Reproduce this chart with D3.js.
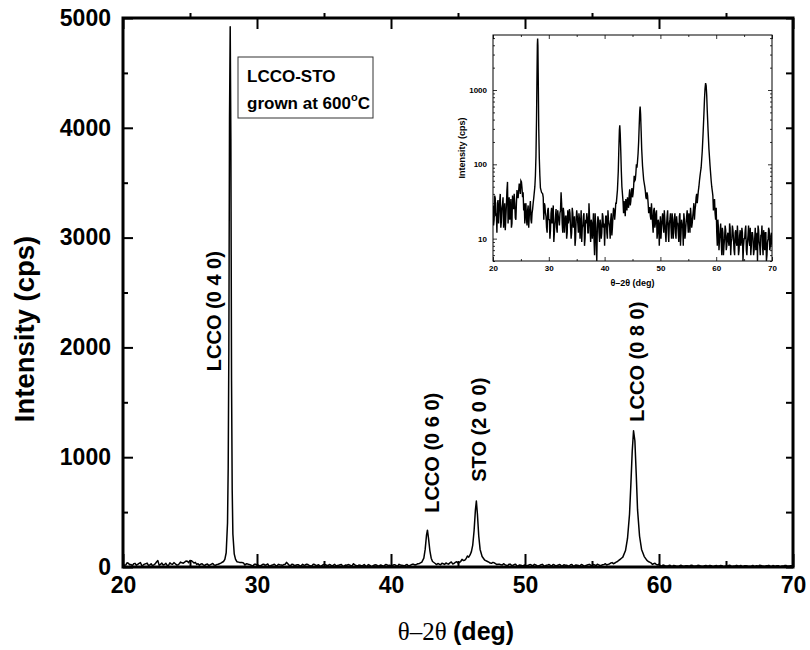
<!DOCTYPE html>
<html>
<head>
<meta charset="utf-8">
<script src="https://cdn.jsdelivr.net/npm/d3@7"></script>
<style>
  body { margin: 0; background: #fff; }
  svg { display: block; }
</style>
</head>
<body>
<div id="chart"></div>
<script type="text/javascript">

      // scan settings and background counts (2theta 20..70, step 0.2)
      var scanStart = 20, scanStep = 0.2;
      var bgCounts = [
        28, 18, 35, 22, 30, 16,
        32, 14, 26, 36, 20,
        13, 28, 58, 24, 18,
        34, 16, 27, 40, 19,
        30, 38, 44, 52, 60,
        48, 42, 30, 26, 18,
        24, 14, 26, 18, 22,
        30, 60, 200, 900, 4900,
        600, 120, 40, 44, 36,
        30, 22, 14, 24, 18,
        10, 22, 16, 28, 12,
        20, 14, 24, 18, 22,
        42, 16, 26, 12, 20,
        10, 24, 18, 22, 10,
        26, 14, 20, 10, 24,
        16, 22, 10, 24, 14,
        20, 8, 18, 22, 12,
        30, 14, 18, 10, 22,
        6, 16, 5, 20, 12,
        18, 10, 22, 14, 8,
        20, 12, 24, 16, 10,
        22, 14, 26, 18, 30,
        45, 120, 330, 90, 40,
        30, 22, 26, 34, 24,
        30, 38, 28, 42, 36,
        50, 60, 75, 90, 140,
        420, 400, 120, 70, 55,
        48, 36, 42, 30, 26,
        20, 30, 16, 24, 14,
        22, 10, 18, 8, 20,
        14, 22, 12, 18, 9,
        20, 12, 16, 22, 10,
        18, 14, 22, 10, 16,
        12, 20, 8, 18, 14,
        22, 10, 16, 24, 12,
        18, 26, 14, 20, 30,
        24, 36, 30, 44, 60,
        80, 120, 240, 550, 1150,
        1200, 700, 300, 140, 70,
        50, 38, 30, 22, 26,
        8, 14, 10, 16, 6,
        12, 8, 15, 7, 11,
        9, 16, 6, 10, 13,
        7, 12, 9, 15, 6,
        11, 8, 14, 5, 10,
        13, 7, 9, 15, 8,
        6, 12, 10, 7, 14,
        9, 5, 13, 8, 11,
        15, 6, 10, 12, 5,
        9, 14, 7, 11, 8
      ];
      // counts at the in-between steps (20.1 .. 69.9)
      var bgCountsMid = [
        15, 38, 20, 12, 33,
        24, 40, 17, 29, 14,
        30, 19, 45, 16, 36,
        22, 14, 38, 25, 30,
        18, 45, 35, 55, 40,
        58, 36, 24, 16, 30,
        15, 28, 20, 32, 16,
        25, 40, 110, 500, 3000,
        2000, 200, 60, 30, 42,
        18, 28, 20, 12, 26,
        18, 13, 26, 20, 9,
        16, 25, 12, 20, 15,
        24, 30, 12, 22, 16,
        20, 12, 16, 25, 14,
        12, 22, 16, 8, 18,
        20, 12, 18, 16, 9,
        15, 22, 10, 16, 19,
        12, 20, 9, 16, 14,
        10, 22, 8, 14, 18,
        9, 15, 12, 20, 16,
        14, 20, 10, 18, 14,
        18, 11, 20, 24, 22,
        35, 70, 320, 200, 55,
        40, 25, 32, 20, 30,
        36, 26, 46, 32, 48,
        40, 70, 62, 100, 85,
        260, 560, 200, 85, 60,
        52, 44, 34, 38, 22,
        26, 18, 22, 12, 26,
        16, 24, 12, 16, 14,
        10, 18, 16, 24, 12,
        15, 24, 9, 18, 14,
        22, 10, 18, 12, 20,
        16, 9, 22, 12, 16,
        8, 18, 12, 20, 16,
        22, 12, 20, 16, 24,
        18, 28, 40, 36, 50,
        70, 100, 180, 380, 900,
        1250, 950, 450, 200, 100,
        60, 44, 24, 34, 18,
        12, 18, 7, 12, 9,
        14, 6, 10, 13, 8,
        12, 8, 14, 9, 15,
        10, 6, 13, 8, 11,
        7, 13, 9, 12, 8,
        10, 15, 6, 11, 9,
        14, 8, 12, 6, 10,
        7, 12, 15, 9, 6,
        11, 8, 13, 7, 12,
        6, 10, 13, 8, 12
      ];

      // finer points read around each reflection
      var peak040 = [[27.3,35],[27.5,50],[27.6,70],[27.7,130],[27.8,400],[27.85,900],[27.9,2000],[27.95,4100],
                     [28.0,4920],[28.05,3900],[28.1,1700],[28.15,700],[28.2,300],[28.3,120],[28.4,70],[28.5,48],[28.7,42],[28.9,40]];
      var peak060 = [[42.1,30],[42.3,45],[42.45,80],[42.55,160],[42.65,290],[42.72,335],[42.8,260],[42.9,150],[43.0,80],[43.1,50],[43.3,32]];
      var peak200 = [[45.9,110],[46.0,140],[46.1,200],[46.2,330],[46.3,520],[46.37,600],[46.45,480],[46.55,280],[46.65,160],[46.8,95],[47.0,62],[47.2,50]];
      var peak080 = [[57.3,90],[57.5,150],[57.65,260],[57.8,480],[57.9,750],[58.0,1050],[58.1,1240],[58.2,1150],[58.3,850],[58.4,520],
                     [58.55,280],[58.7,160],[58.9,95],[59.1,60]];

      // label baseline position (deg) and centre (cps)
      var peakLabels = [
        {text: "LCCO (0 4 0)", x: 27.3, at: 2330},
        {text: "LCCO (0 6 0)", x: 43.55, at: 1040},
        {text: "STO (2 0 0)", x: 47.1, at: 1250},
        {text: "LCCO (0 8 0)", x: 58.9, at: 1870}
      ];

      var xTicks = [20, 30, 40, 50, 60, 70];
      var xMinor = [25, 35, 45, 55, 65];
      var yTicks = [0, 1000, 2000, 3000, 4000, 5000];
      var yMinor = [500, 1500, 2500, 3500, 4500];
      var insetYTicks = [10, 100, 1000];

      // merge background and peak points
      var peaks = [peak040, peak060, peak200, peak080];
      var data = [];
      function inPeak(tt) {
        return peaks.some(function(p) { return tt >= p[0][0] && tt <= p[p.length-1][0]; });
      }
      bgCounts.forEach(function(c, i) {
        var tt = +(scanStart + i * scanStep).toFixed(2);
        if (!inPeak(tt)) data.push([tt, c]);
      });
      bgCountsMid.forEach(function(c, i) {
        var tt = +(scanStart + scanStep / 2 + i * scanStep).toFixed(2);
        if (!inPeak(tt)) data.push([tt, c]);
      });
      peaks.forEach(function(p) { p.forEach(function(d) { data.push(d); }); });
      data.sort(function(a, b) { return a[0] - b[0]; });

      var w = 810, h = 650;
      var plot = {left: 123, right: 793, top: 18, bottom: 567};
      var numFont = "'Liberation Sans Narrow', 'Arial Narrow', 'Liberation Sans', sans-serif";
      var sansFont = "'Liberation Sans', Arial, sans-serif";

      var svg = d3.select("#chart").append("svg")
                  .attr("width", w)
                  .attr("height", h);

      var x = d3.scaleLinear().domain([20, 70]).range([plot.left, plot.right]);
      var y = d3.scaleLinear().domain([0, 5000]).range([plot.bottom, plot.top]);

      // main curve
      svg.append("path")
         .datum(data)
         .attr("fill", "none")
         .attr("stroke", "#000")
         .attr("stroke-width", 1.5)
         .attr("stroke-linejoin", "round")
         .attr("d", d3.line().x(function(d) { return x(d[0]); }).y(function(d) { return y(d[1]); }));

      // axes
      function styleAxis(g, size) {
        g.select(".domain").remove();
        g.selectAll("line").attr("stroke", "#000").attr("stroke-width", 2);
        g.selectAll("text").attr("font-family", numFont).attr("font-weight", "bold")
         .attr("font-size", size).attr("fill", "#000");
      }

      svg.append("g").attr("transform", "translate(0," + plot.bottom + ")")
         .call(d3.axisBottom(x).tickValues(xTicks).tickSize(-13).tickPadding(10).tickFormat(d3.format("d")))
         .call(styleAxis, 23);
      svg.append("g").attr("transform", "translate(0," + plot.bottom + ")")
         .call(d3.axisBottom(x).tickValues(xMinor).tickSize(-6).tickFormat(""))
         .call(styleAxis, 0);
      svg.append("g").attr("transform", "translate(0," + plot.top + ")")
         .call(d3.axisTop(x).tickValues(xTicks).tickSize(-11).tickFormat(""))
         .call(styleAxis, 0);
      svg.append("g").attr("transform", "translate(0," + plot.top + ")")
         .call(d3.axisTop(x).tickValues(xMinor).tickSize(5).tickFormat(""))
         .call(styleAxis, 0);

      svg.append("g").attr("transform", "translate(" + plot.left + ",0)")
         .call(d3.axisLeft(y).tickValues(yTicks).tickSize(-10).tickPadding(12).tickFormat(d3.format("d")))
         .call(styleAxis, 23);
      svg.append("g").attr("transform", "translate(" + plot.left + ",0)")
         .call(d3.axisLeft(y).tickValues(yMinor).tickSize(-5).tickFormat(""))
         .call(styleAxis, 0);
      svg.append("g").attr("transform", "translate(" + plot.right + ",0)")
         .call(d3.axisRight(y).tickValues(yTicks.concat(yMinor)).tickSize(-7).tickFormat(""))
         .call(styleAxis, 0);

      // frame
      svg.append("rect")
         .attr("x", plot.left).attr("y", plot.top)
         .attr("width", plot.right - plot.left).attr("height", plot.bottom - plot.top)
         .attr("fill", "none").attr("stroke", "#000").attr("stroke-width", 3);

      // axis titles
      svg.append("text")
         .attr("transform", "translate(34,329) rotate(-90)")
         .attr("text-anchor", "middle")
         .attr("font-family", sansFont).attr("font-weight", "bold").attr("font-size", 27.5)
         .text("Intensity (cps)");

      var xt = svg.append("text")
         .attr("x", 456).attr("y", 640)
         .attr("text-anchor", "middle")
         .attr("font-size", 25);
      xt.append("tspan").attr("font-family", "'Liberation Serif', 'Times New Roman', serif").text("\u03b8\u20132\u03b8 ");
      xt.append("tspan").attr("font-family", numFont).attr("font-weight", "bold").text("(deg)");

      // peak labels
      svg.selectAll("text.peak")
         .data(peakLabels)
         .enter()
         .append("text")
         .attr("class", "peak")
         .attr("transform", function(d) { return "translate(" + x(d.x) + "," + y(d.at) + ") rotate(-90)"; })
         .attr("text-anchor", "middle")
         .attr("font-family", sansFont).attr("font-weight", "bold").attr("font-size", 20)
         .text(function(d) { return d.text; });

      // sample note
      svg.append("rect")
         .attr("x", 238).attr("y", 57).attr("width", 135).attr("height", 61)
         .attr("fill", "#fff").attr("stroke", "#333").attr("stroke-width", 1);
      svg.append("text")
         .attr("x", 247).attr("y", 82)
         .attr("font-family", sansFont).attr("font-weight", "bold").attr("font-size", 17)
         .text("LCCO-STO");
      var gt = svg.append("text")
         .attr("x", 247).attr("y", 109)
         .attr("font-family", sansFont).attr("font-weight", "bold").attr("font-size", 17);
      gt.append("tspan").text("grown at 600");
      gt.append("tspan").attr("font-size", 11).attr("dy", -8).text("o");
      gt.append("tspan").attr("dy", 8).text("C");

      // inset, log scale
      var inset = {left: 493, right: 772, top: 35, bottom: 261};
      var ix = d3.scaleLinear().domain([20, 70]).range([inset.left, inset.right]);
      var iy = d3.scaleLog().domain([5, 5500]).range([inset.bottom, inset.top]).clamp(true);
      var insetMinor = [];
      [1, 10, 100, 1000].forEach(function(dec) {
        for (var k = 2; k <= 9; k++) {
          var v = k * dec;
          if (v >= 5 && v <= 5500) insetMinor.push(v);
        }
      });

      svg.append("clipPath").attr("id", "insetClip")
         .append("rect")
         .attr("x", inset.left).attr("y", inset.top)
         .attr("width", inset.right - inset.left).attr("height", inset.bottom - inset.top);

      svg.append("path")
         .datum(data)
         .attr("clip-path", "url(#insetClip)")
         .attr("fill", "none")
         .attr("stroke", "#000")
         .attr("stroke-width", 1.4)
         .attr("d", d3.line().x(function(d) { return ix(d[0]); }).y(function(d) { return iy(d[1]); }));

      function styleInset(g) {
        g.select(".domain").remove();
        g.selectAll("line").attr("stroke", "#000").attr("stroke-width", 0.8);
        g.selectAll("text").attr("font-family", numFont).attr("font-weight", "bold")
         .attr("font-size", 8).attr("fill", "#000");
      }

      svg.append("g").attr("transform", "translate(0," + inset.bottom + ")")
         .call(d3.axisBottom(ix).tickValues(xTicks).tickSize(-4).tickPadding(4).tickFormat(d3.format("d")))
         .call(styleInset);
      svg.append("g").attr("transform", "translate(0," + inset.bottom + ")")
         .call(d3.axisBottom(ix).tickValues(xMinor).tickSize(-2).tickFormat(""))
         .call(styleInset);
      svg.append("g").attr("transform", "translate(0," + inset.top + ")")
         .call(d3.axisTop(ix).tickValues(xTicks).tickSize(-4).tickFormat(""))
         .call(styleInset);
      svg.append("g").attr("transform", "translate(0," + inset.top + ")")
         .call(d3.axisTop(ix).tickValues(xMinor).tickSize(-2).tickFormat(""))
         .call(styleInset);
      svg.append("g").attr("transform", "translate(" + inset.left + ",0)")
         .call(d3.axisLeft(iy).tickValues(insetYTicks).tickSize(-4).tickPadding(6).tickFormat(d3.format("d")))
         .call(styleInset);
      svg.append("g").attr("transform", "translate(" + inset.left + ",0)")
         .call(d3.axisLeft(iy).tickValues(insetMinor).tickSize(-2).tickFormat(""))
         .call(styleInset);
      svg.append("g").attr("transform", "translate(" + inset.right + ",0)")
         .call(d3.axisRight(iy).tickValues(insetYTicks).tickSize(-4).tickFormat(""))
         .call(styleInset);
      svg.append("g").attr("transform", "translate(" + inset.right + ",0)")
         .call(d3.axisRight(iy).tickValues(insetMinor).tickSize(-2).tickFormat(""))
         .call(styleInset);

      svg.append("rect")
         .attr("x", inset.left).attr("y", inset.top)
         .attr("width", inset.right - inset.left).attr("height", inset.bottom - inset.top)
         .attr("fill", "none").attr("stroke", "#000").attr("stroke-width", 1);

      svg.append("text")
         .attr("transform", "translate(465," + ((inset.top + inset.bottom) / 2) + ") rotate(-90)")
         .attr("text-anchor", "middle")
         .attr("font-family", numFont).attr("font-weight", "bold").attr("font-size", 9)
         .text("Intensity (cps)");
      var it = svg.append("text")
         .attr("x", (inset.left + inset.right) / 2).attr("y", 286)
         .attr("text-anchor", "middle")
         .attr("font-family", numFont).attr("font-weight", "bold").attr("font-size", 9);
      it.append("tspan").text("\u03b8\u20132\u03b8 (deg)");

</script>
</body>
</html>
